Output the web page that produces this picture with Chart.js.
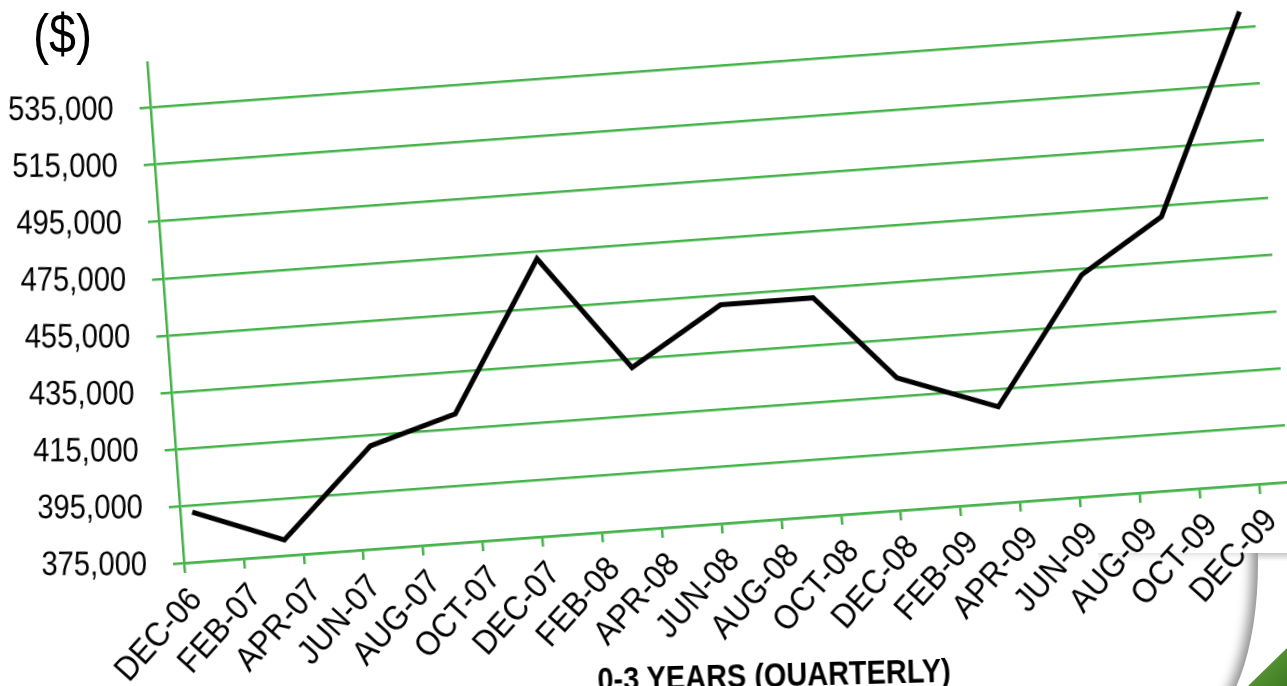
<!DOCTYPE html>
<html>
<head>
<meta charset="utf-8">
<script src="https://cdn.jsdelivr.net/npm/chart.js@4.4.0/dist/chart.umd.min.js"></script>
<style>
  html, body { margin: 0; padding: 0; background: #fff; overflow: hidden; }
  body { width: 1287px; height: 686px; position: relative; font-family: 'Liberation Sans', Arial, sans-serif; }
  #chart { position: absolute; left: 0; top: 0; }
  .unit { position: absolute; left: 33px; top: 7px; font-size: 55px; line-height: 55px; color: #000;
          transform: scaleX(0.88); transform-origin: left top; }
  .xtitle { position: absolute; left: 597px; top: 662px; font-size: 34px; line-height: 34px; font-weight: bold;
            white-space: nowrap; transform: rotate(-1.5deg) scaleX(0.85); transform-origin: left top; }
  .curl { position: absolute; left: 1098px; top: 553px; width: 160px; height: 170px; background: transparent;
          border-bottom-right-radius: 60px 160px; box-shadow: inset -10px 0 12px -4px rgba(0,0,0,0.45); }
  .under { position: absolute; left: 1258px; top: 553px; width: 29px; height: 8px;
           background: linear-gradient(to bottom, rgba(0,0,0,0.22), rgba(0,0,0,0)); }
  .corner { position: absolute; left: 1248px; top: 648px; width: 39px; height: 38px;
            background: linear-gradient(135deg, #6aa640, #3d7a22); clip-path: polygon(100% 0, 100% 100%, 0 100%); }
</style>
</head>
<body>
<canvas id="chart" width="1279" height="662"></canvas>
<div class="unit">($)</div>
<div class="xtitle">0-3 YEARS (QUARTERLY)</div>
<div class="corner"></div>
<div class="under"></div>
<div class="curl"></div>
<script>
// tick labels along the bottom (every two months)
const months = ['DEC-06', 'FEB-07', 'APR-07', 'JUN-07', 'AUG-07', 'OCT-07', 'DEC-07',
  'FEB-08', 'APR-08', 'JUN-08', 'AUG-08', 'OCT-08', 'DEC-08',
  'FEB-09', 'APR-09', 'JUN-09', 'AUG-09', 'OCT-09', 'DEC-09'];
const yTicks = [375000, 395000, 415000, 435000, 455000, 475000, 495000, 515000, 535000];

// quarterly readings, position measured in month-label steps
const quarterPos = [0.2, 1.7, 3.25, 4.7, 6.25, 7.7, 9.25, 10.8, 12.1, 13.75, 15.3, 16.7, 18.25];
const prices = [392600, 380500, 411200, 420200, 472300, 431800, 451500, 451600, 421400, 408700, 452700, 471000, 540700];

const green = '#45b34a';
const tilt = 4.2;              // whole plot leans up to the right
const corner = { x: 184, y: 563 }; // where DEC-06 / 375,000 sits on the page

const fmt = v => v.toLocaleString('en-US');

// draws the tick text by hand so it can stay upright / condensed
const labelPlugin = {
  id: 'labels',
  afterDraw(chart) {
    const { ctx, chartArea, scales } = chart;
    const back = tilt * Math.PI / 180;
    ctx.save();
    ctx.fillStyle = '#000';

    ctx.font = '34px "Liberation Sans", Arial, sans-serif';
    ctx.textAlign = 'right';
    ctx.textBaseline = 'middle';
    yTicks.forEach(v => {
      const py = scales.y.getPixelForValue(v);
      ctx.save();
      ctx.translate(chartArea.left - 11 - 26, py);
      ctx.rotate(back);
      ctx.scale(0.86, 1);
      ctx.fillText(fmt(v), 0, 0);
      ctx.restore();
    });

    ctx.font = '34px "Liberation Sans", Arial, sans-serif';
    months.forEach((m, i) => {
      const px = scales.x.getPixelForValue(i);
      ctx.save();
      ctx.translate(px + 10, chartArea.bottom + 32);
      ctx.rotate(-(48 - tilt) * Math.PI / 180);
      ctx.scale(0.92, 1);
      ctx.fillText(m, 0, 0);
      ctx.restore();
    });
    ctx.restore();
  }
};

const canvas = document.getElementById('chart');
const chart = new Chart(canvas, {
  type: 'line',
  data: {
    datasets: [{
      data: quarterPos.map((x, i) => ({ x: x, y: prices[i] })),
      borderColor: '#000',
      borderWidth: 5,
      pointRadius: 0,
      tension: 0,
      fill: false,
      clip: false
    }]
  },
  options: {
    responsive: false,
    devicePixelRatio: 1,
    animation: false,
    layout: { padding: { left: 150, right: 10, top: 10, bottom: 140 } },
    plugins: { legend: { display: false }, tooltip: { enabled: false } },
    scales: {
      x: {
        type: 'linear',
        min: 0,
        max: 18.5,
        afterBuildTicks: s => { s.ticks = months.map((m, i) => ({ value: i })); },
        ticks: { display: false },
        grid: { drawOnChartArea: false, drawTicks: true, tickLength: 10, color: green, lineWidth: 2.5 },
        border: { color: green, width: 2.5 }
      },
      y: {
        min: 375000,
        max: 551000,
        afterBuildTicks: s => { s.ticks = yTicks.map(v => ({ value: v })); },
        ticks: { display: false },
        grid: { color: green, lineWidth: 2.5, tickLength: 11 },
        border: { color: green, width: 2.5 }
      }
    }
  },
  plugins: [labelPlugin]
});

// lean the canvas around the axis corner and pin that corner on the page
const area = chart.chartArea;
canvas.style.left = (corner.x - area.left) + 'px';
canvas.style.top = (corner.y - area.bottom) + 'px';
canvas.style.transformOrigin = area.left + 'px ' + area.bottom + 'px';
canvas.style.transform = 'rotate(-' + tilt + 'deg)';
</script>
</body>
</html>
